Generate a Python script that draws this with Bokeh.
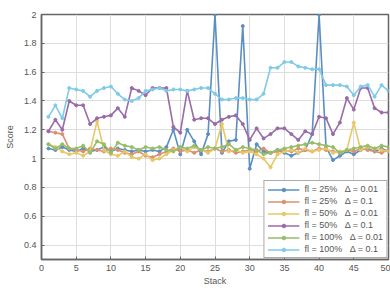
from bokeh.plotting import figure
from bokeh.models import Legend, LegendItem, Range1d, FixedTicker, CustomJSTickFormatter
from bokeh.embed import file_html
from bokeh.resources import INLINE

stack = list(range(1, 51))

s_25_001 = [1.07, 1.06, 1.08, 1.06, 1.05, 1.07, 1.05, 1.06, 1.08, 1.05,
            1.07, 1.06, 1.05, 1.06, 1.05, 1.06, 1.05, 1.08, 1.20, 1.03,
            1.20, 1.12, 1.03, 1.17, 2.00, 1.04, 1.12, 1.13, 1.92, 0.93,
            1.10, 1.05, 1.04, 1.06, 1.04, 1.02, 1.04, 1.06, 1.17, 2.00,
            1.08, 0.99, 1.02, 1.05, 1.03, 1.06, 1.07, 1.05, 1.07, 1.05]
s_25_01 = [1.19, 1.18, 1.17, 1.07, 1.06, 1.05, 1.07, 1.06, 1.05, 1.07,
           1.06, 1.04, 1.03, 1.05, 1.02, 1.01, 1.03, 1.05, 1.07, 1.05,
           1.06, 1.04, 1.06, 1.05, 1.07, 1.05, 1.06, 1.04, 1.05, 1.06,
           1.05, 1.07, 1.04, 1.05, 1.06, 1.05, 1.07, 1.06, 1.05, 1.07,
           1.06, 1.05, 1.04, 1.06, 1.05, 1.07, 1.06, 1.05, 1.04, 1.06]
s_50_001 = [1.10, 1.08, 1.05, 1.03, 1.04, 1.02, 1.05, 1.26, 1.06, 1.03,
            1.02, 1.05, 1.01, 1.00, 1.03, 0.99, 1.00, 1.03, 1.06, 1.08,
            1.05, 1.08, 1.06, 1.04, 1.07, 1.24, 1.05, 1.06, 1.04, 1.05,
            1.03, 1.00, 0.94, 1.03, 1.05, 1.06, 1.04, 1.07, 1.05, 1.06,
            1.07, 1.04, 1.05, 1.06, 1.25, 1.06, 1.08, 1.07, 1.06, 1.05]
s_50_01 = [1.19, 1.27, 1.20, 1.40, 1.37, 1.37, 1.24, 1.28, 1.29, 1.30,
           1.35, 1.29, 1.49, 1.47, 1.44, 1.49, 1.49, 1.49, 1.22, 1.18,
           1.47, 1.27, 1.28, 1.28, 1.24, 1.27, 1.29, 1.30, 1.24, 1.13,
           1.21, 1.14, 1.17, 1.21, 1.21, 1.17, 1.13, 1.19, 1.17, 1.29,
           1.28, 1.17, 1.25, 1.42, 1.34, 1.49, 1.49, 1.35, 1.32, 1.32]
s_100_001 = [1.10, 1.07, 1.10, 1.07, 1.07, 1.09, 1.04, 1.12, 1.10, 1.04,
             1.11, 1.09, 1.08, 1.06, 1.08, 1.07, 1.08, 1.06, 1.05, 1.08,
             1.07, 1.09, 1.06, 1.08, 1.07, 1.08, 1.10, 1.06, 1.08, 1.07,
             1.06, 1.03, 1.04, 1.06, 1.07, 1.08, 1.09, 1.10, 1.11, 1.10,
             1.09, 1.08, 1.04, 1.06, 1.07, 1.08, 1.09, 1.07, 1.09, 1.08]
s_100_01 = [1.29, 1.37, 1.28, 1.49, 1.48, 1.47, 1.43, 1.47, 1.49, 1.50,
            1.45, 1.41, 1.40, 1.42, 1.47, 1.48, 1.49, 1.47, 1.48, 1.48,
            1.47, 1.48, 1.49, 1.49, 1.45, 1.41, 1.41, 1.42, 1.42, 1.41,
            1.41, 1.45, 1.63, 1.63, 1.67, 1.67, 1.64, 1.63, 1.62, 1.62,
            1.51, 1.51, 1.51, 1.50, 1.44, 1.50, 1.51, 1.43, 1.51, 1.47]

labels = ["fl = 25%   Δ = 0.01", "fl = 25%   Δ = 0.1", "fl = 50%   Δ = 0.01",
          "fl = 50%   Δ = 0.1", "fl = 100%   Δ = 0.01", "fl = 100%   Δ = 0.1"]
series = [s_25_001, s_25_01, s_50_001, s_50_01, s_100_001, s_100_01]
colors = ["#5b8fc0", "#dc8f72", "#e8c766", "#9a6ba8", "#97bd68", "#7fcbe8"]

x_ticks = [0, 5, 10, 15, 20, 25, 30, 35, 40, 45, 50]
y_ticks = [0.4, 0.6, 0.8, 1.0, 1.2, 1.4, 1.6, 1.8, 2.0]

p = figure(width=390, height=289, output_backend="svg", toolbar_location=None,
           x_range=Range1d(0, 50), y_range=Range1d(0.3, 2.0),
           min_border_left=41, min_border_right=2, min_border_top=14, min_border_bottom=30)

items = []
for lab, ys, c in zip(labels, series, colors):
    r1 = p.line(stack, ys, line_color=c, line_width=1.6)
    r2 = p.scatter(stack, ys, size=3, color=c)
    items.append(LegendItem(label=lab, renderers=[r1, r2]))
legend = Legend(items=items, location="bottom_right")
legend.label_text_font = "Liberation Sans"
legend.label_text_font_size = "9px"
legend.label_text_color = "#555555"
legend.label_height = 9
legend.glyph_height = 9
legend.glyph_width = 32
legend.spacing = 2
legend.padding = 3
legend.margin = 1
legend.label_standoff = 5
legend.border_line_color = "#555555"
legend.border_line_width = 1.5
legend.background_fill_alpha = 1.0
p.add_layout(legend)

p.xaxis.ticker = FixedTicker(ticks=x_ticks)
p.yaxis.ticker = FixedTicker(ticks=y_ticks)
p.yaxis.formatter = CustomJSTickFormatter(code="return (Math.round(tick*10)/10).toString();")
p.xaxis.axis_label = "Stack"
p.yaxis.axis_label = "Score"
for ax in [p.xaxis, p.yaxis]:
    ax.axis_label_text_font = "Liberation Sans"
    ax.axis_label_text_font_size = "9px"
    ax.axis_label_text_font_style = "normal"
    ax.axis_label_text_color = "#555555"
    ax.major_label_text_font = "Liberation Sans"
    ax.major_label_text_font_size = "9px"
    ax.major_label_text_color = "#555555"
    ax.axis_line_color = "#666666"
    ax.axis_line_width = 1.5
    ax.major_tick_in = 3
    ax.major_tick_out = 0
    ax.major_tick_line_color = "#666666"
    ax.minor_tick_line_color = None
p.xaxis.axis_label_standoff = 2
p.yaxis.axis_label_standoff = 6
p.xaxis.major_label_standoff = 5
p.yaxis.major_label_standoff = 5

p.grid.grid_line_color = "#dddddd"
p.grid.grid_line_width = 1
p.outline_line_color = "#666666"
p.outline_line_width = 1.5
p.outline_line_alpha = 1.0
p.background_fill_color = "white"
p.border_fill_color = "white"

open("out.html", "w").write(file_html(p, INLINE))
